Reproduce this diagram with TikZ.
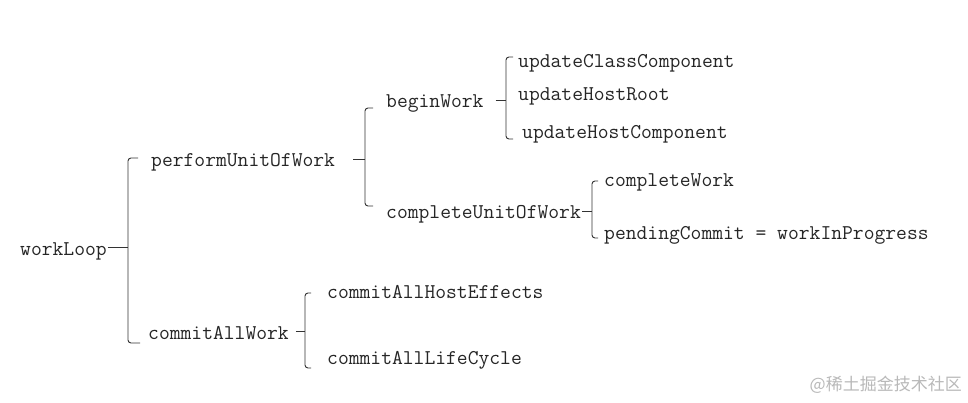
\documentclass[tikz,border=0pt]{standalone}
\usepackage{fontspec}
\newfontfamily\cjkfont{Noto Sans CJK SC}

\begin{document}
\begin{tikzpicture}[x=1pt, y=-1pt,
  txt/.style={anchor=base west, inner xsep=1pt, inner ysep=0pt, text height=16pt, text depth=0pt,
    font=\fontsize{21}{24}\selectfont\ttfamily, text=black!85},
  brk/.style={draw=black!80, line width=0.9pt, rounded corners=3pt}
]
\useasboundingbox[fill=white] (0,0) rectangle (968,403);

% root
\node[txt] (wl) at (19,255) {workLoop};
% first level
\node[txt] (pu) at (150,167) {performUnitOfWork};
\node[txt] (ca) at (147,339) {commitAllWork};
% second level
\node[txt] (bw) at (385,108) {beginWork};
\node[txt] (cu) at (385,219) {completeUnitOfWork};
\node[txt] (ch) at (326,298) {commitAllHostEffects};
\node[txt] (cl) at (326,364) {commitAllLifeCycle};
% third level
\node[txt] (uc) at (517,68) {updateClassComponent};
\node[txt] (ur) at (517,101) {updateHostRoot};
\node[txt] (uh) at (521,139) {updateHostComponent};
\node[txt] (cw) at (603,187) {completeWork};
\node[txt] (pc) at (603,240) {pendingCommit = workInProgress};

% bracket columns
\coordinate (ka) at (128,249);
\coordinate (kb) at (365,157);
\coordinate (kc) at (506,99);
\coordinate (kd) at (592,210);
\coordinate (ke) at (305,331);

% workLoop
\draw[brk] (wl.east) -- (wl.east -| ka);
\draw[brk] (138,158) -- (128,158) -- (128,343) -- (140,343);
% performUnitOfWork
\draw[brk] ([xshift=17pt]pu.east) -- (pu.east -| kb);
\draw[brk] (373,108) -- (365,108) -- (365,206) -- (373,206);
% beginWork
\draw[brk] ([xshift=11pt]bw.east) -- (bw.east -| kc);
\draw[brk] (513,57) -- (506,57) -- (506,139) -- (513,139);
% completeUnitOfWork
\draw[brk] (cu.east) -- (cu.east -| kd);
\draw[brk] (598,181) -- (592,181) -- (592,238) -- (598,238);
% commitAllWork
\draw[brk] ([xshift=6pt]ca.east) -- (ca.east -| ke);
\draw[brk] (311,293) -- (305,293) -- (305,368) -- (311,368);

\node[font=\cjkfont\fontsize{17}{20}\selectfont, text=gray!55, anchor=east, inner sep=0pt] (wm) at (962,385) {@稀土掘金技术社区};
\end{tikzpicture}
\end{document}
